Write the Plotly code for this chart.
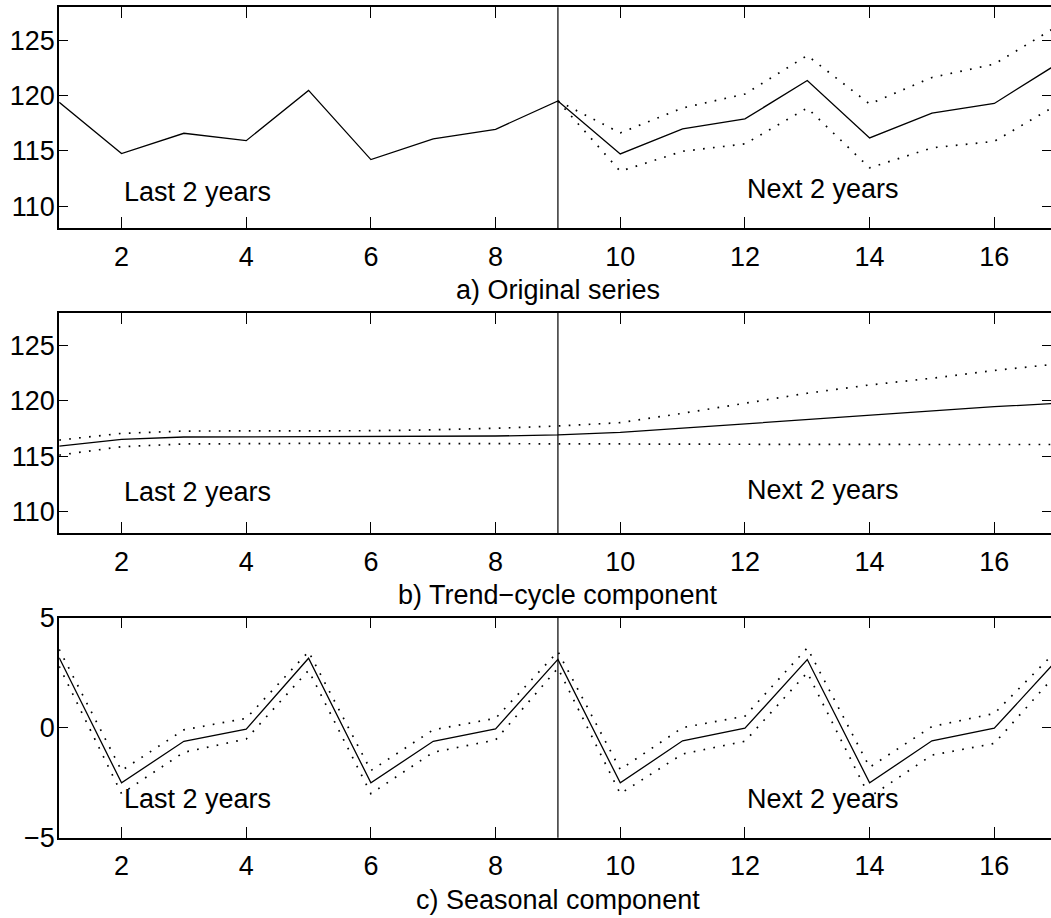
import plotly.graph_objects as go

# ---------------- data ----------------
x_all = list(range(1, 18))            # 1..17 (history 1..9, forecast 9..17)
x_fore = list(range(9, 18))           # forecast horizon incl. origin
FORECAST_ORIGIN = 9

orig = [119.40, 114.76, 116.60, 115.93, 120.48, 114.22, 116.09, 116.96, 119.52,
        114.73, 117.00, 117.90, 121.38, 116.18, 118.43, 119.30, 122.84]
orig_upper = [119.52, 116.63, 118.89, 120.15, 123.64, 119.25, 121.65, 122.86, 126.25]
orig_lower = [119.52, 113.16, 114.97, 115.64, 118.89, 113.47, 115.28, 115.87, 119.15]

trend = [115.91, 116.52, 116.73, 116.76, 116.79, 116.79, 116.80, 116.82, 116.92,
         117.15, 117.53, 117.91, 118.32, 118.73, 119.10, 119.48, 119.78]
trend_upper = [116.45, 117.06, 117.27, 117.27, 117.27, 117.30, 117.38, 117.52, 117.73,
               118.03, 118.88, 119.79, 120.70, 121.45, 122.06, 122.76, 123.35]
trend_lower = [115.09, 115.85, 116.10, 116.15, 116.15, 116.15, 116.15, 116.15, 116.12,
               116.10, 116.08, 116.06, 116.05, 116.05, 116.05, 116.05, 116.05]

seas = [3.17, -2.51, -0.62, -0.07, 3.15, -2.51, -0.62, -0.06, 3.10,
        -2.51, -0.60, -0.03, 3.09, -2.51, -0.60, -0.03, 3.05]
seas_upper = [3.55, -1.95, -0.10, 0.42, 3.45, -1.95, -0.10, 0.42, 3.45,
              -1.90, 0.00, 0.52, 3.62, -1.80, 0.05, 0.64, 3.50]
seas_lower = [2.78, -3.00, -1.12, -0.52, 2.60, -3.00, -1.12, -0.56, 2.70,
              -3.00, -1.20, -0.62, 2.50, -3.15, -1.25, -0.72, 2.45]

x_ticks = [2, 4, 6, 8, 10, 12, 14, 16]
level_ticks = [110, 115, 120, 125]
seas_ticks = [-5, 0, 5]

titles = ["a) Original series", "b) Trend\u2212cycle component", "c) Seasonal component"]
label_last = "Last 2 years"
label_next = "Next 2 years"
label_pos = [(111.3, 111.6), (111.7, 111.95), (-3.25, -3.25)]

# ---------------- layout ----------------
W, H = 1051, 918
FONT = "Liberation Sans, Arial, Helvetica, sans-serif"
FS = 27
x_left_px = 59.2
unit_px = 62.34
panels_px = [(7.3, 228.3), (312.7, 533.3), (617.5, 837.7)]
x_range = [1, 1 + (W - x_left_px) / unit_px]

fig = go.Figure()

solid = dict(color="black", width=1.3)
dotted = dict(color="black", width=1.7, dash="1.7px,8.3px")

series = [
    (x_all, orig, x_fore, orig_upper, orig_lower),
    (x_all, trend, x_all, trend_upper, trend_lower),
    (x_all, seas, x_all, seas_upper, seas_lower),
]

for i, (xc, yc, xb, yu, yl) in enumerate(series):
    n = "" if i == 0 else str(i + 1)
    xa, ya = "x" + n, "y" + n
    fig.add_trace(go.Scatter(x=xb, y=yu, mode="lines", line=dotted, xaxis=xa, yaxis=ya,
                             showlegend=False, hoverinfo="skip"))
    fig.add_trace(go.Scatter(x=xb, y=yl, mode="lines", line=dotted, xaxis=xa, yaxis=ya,
                             showlegend=False, hoverinfo="skip"))
    fig.add_trace(go.Scatter(x=xc, y=yc, mode="lines", line=solid, xaxis=xa, yaxis=ya,
                             showlegend=False))

axis_common = dict(
    showline=True, linecolor="black", linewidth=1.8, mirror="ticks",
    ticks="inside", tickcolor="black", tickwidth=1,
    showgrid=False, zeroline=False, automargin=False,
    tickfont=dict(family=FONT, size=FS, color="black"),
)

annotations = []
shapes = []
for i, (top, bot) in enumerate(panels_px):
    n = "" if i == 0 else str(i + 1)
    dom_y = [max(0.0, 1 - bot / H), min(1.0, 1 - top / H)]
    yr = [-5, 5] if i == 2 else [108, 128]
    yt = seas_ticks if i == 2 else level_ticks
    fig.layout["xaxis" + n] = dict(axis_common, domain=[x_left_px / W, 1.0], range=x_range,
                                   tickvals=x_ticks, ticklen=11, anchor="y" + n,
                                   ticklabelstandoff=3)
    fig.layout["yaxis" + n] = dict(axis_common, domain=dom_y, range=yr, tickvals=yt,
                                   ticklen=9, anchor="x" + n, ticklabelstandoff=-3)
    ph = bot - top
    annotations.append(dict(text=titles[i], xref="x" + n, yref="y" + n + " domain",
                            x=FORECAST_ORIGIN, y=-62 / ph, xanchor="center", yanchor="middle",
                            showarrow=False, font=dict(family=FONT, size=FS, color="black")))
    ly_last, ly_next = label_pos[i]
    annotations.append(dict(text=label_last, xref="x" + n, yref="y" + n, x=2, y=ly_last,
                            xanchor="left", yanchor="middle", showarrow=False,
                            font=dict(family=FONT, size=FS, color="black")))
    annotations.append(dict(text=label_next, xref="x" + n, yref="y" + n, x=12, y=ly_next,
                            xanchor="left", yanchor="middle", showarrow=False,
                            font=dict(family=FONT, size=FS, color="black")))
    shapes.append(dict(type="line", xref="x" + n, yref="y" + n + " domain",
                       x0=FORECAST_ORIGIN, x1=FORECAST_ORIGIN, y0=0, y1=1,
                       line=dict(color="black", width=1.2)))

fig.update_layout(
    width=W, height=H,
    margin=dict(l=0, r=0, t=0, b=0, pad=0),
    paper_bgcolor="white", plot_bgcolor="white",
    annotations=annotations, shapes=shapes,
    showlegend=False,
)

fig.write_html(
    "out.html",
    config={"displayModeBar": False},
    post_script="document.body.style.margin='0';document.body.style.overflow='hidden';",
)
